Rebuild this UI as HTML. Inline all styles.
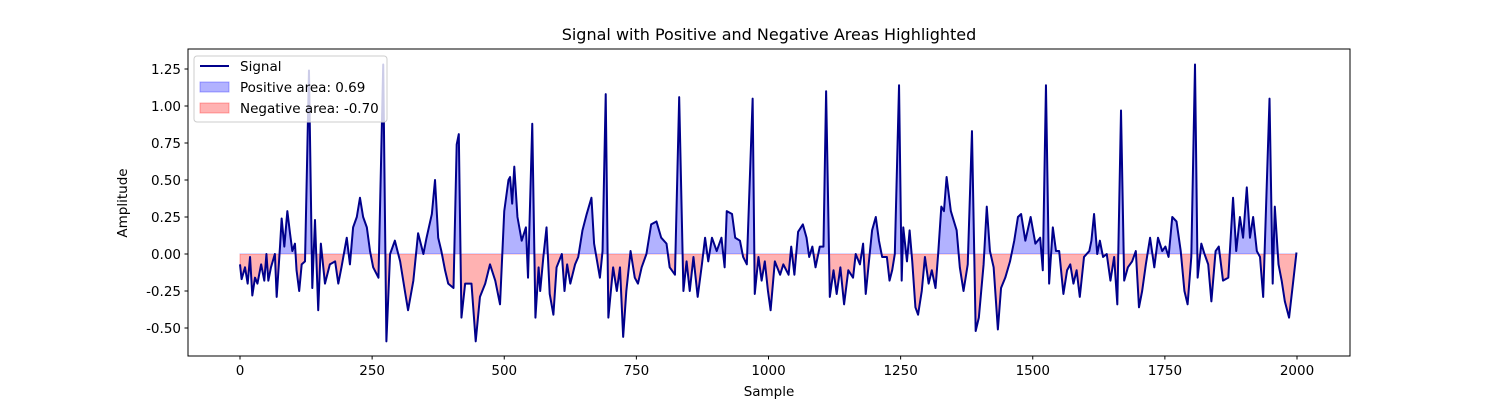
<!DOCTYPE html>
<html><head><meta charset="utf-8"><style>
body{margin:0;background:#fff;font-family:"Liberation Sans","DejaVu Sans",sans-serif}
svg text{font-family:"DejaVu Sans","Liberation Sans",sans-serif;fill:#000}
</style></head><body>
<svg id="chart" width="1500" height="400" xmlns="http://www.w3.org/2000/svg">
<rect width="1500" height="400" fill="#fff"/>
<text x="769" y="40" font-size="16" text-anchor="middle">Signal with Positive and Negative Areas Highlighted</text>
<defs>
<clipPath id="clipPos"><rect x="188" y="49" width="1162" height="205"/></clipPath>
<clipPath id="clipNeg"><rect x="188" y="254" width="1162" height="102"/></clipPath>
</defs>
<g id="fills"></g>
<g id="axes"></g>
<rect x="188" y="49" width="1162" height="307" fill="none" stroke="#000" stroke-width="1"/>
<text x="769" y="396" font-size="13.5" text-anchor="middle">Sample</text>
<text transform="translate(127,203) rotate(-90)" font-size="13.5" text-anchor="middle">Amplitude</text>
<g>
<rect x="194" y="56" width="193" height="66" rx="3" fill="#fff" fill-opacity="0.8" stroke="#ccc"/>
<line x1="200" y1="66" x2="229" y2="66" stroke="#00008b" stroke-width="2"/>
<text x="240" y="71" font-size="13.5">Signal</text>
<rect x="200" y="82" width="29" height="10" fill="#0000ff" fill-opacity="0.3" stroke="#0000ff" stroke-opacity="0.3"/>
<text x="240" y="92" font-size="13.5">Positive area: 0.69</text>
<rect x="200" y="103" width="29" height="10" fill="#ff0000" fill-opacity="0.3" stroke="#ff0000" stroke-opacity="0.3"/>
<text x="240" y="113" font-size="13.5">Negative area: -0.70</text>
</g>
</svg>
<script>
const sampleIdx=[0,3,9.5,14.5,19,23.3,28.4,33,40,46,50,53.6,58.6,66,69.4,75.7,78.8,83.9,89.6,94.6,99,104,107,112,116.7,123,130.5,136.8,141.9,148,153,160.8,170,180,186,192,202,208,214,221,227,233,240,246,252,262,271,277,284,293,303,312,318,328,337,347,353,363,369,375,381,388,394,404,410,414,419,426,438,446,454,464,473,483,492,500,508,
511,515,519,525,533,541,545,553,559,565,568,574,580,586,593,599,609,614,619,625,634,640,648,656,665,670,681,686,692,697,706,713,719,725,731,739,747,753,760,769,778,788,797,807,813,823,831,839,845,851,858,866,874,880,886,893,902,911,917,921,931,937,946,952,959,970,974,981,987,993,999,1004,
1012,1022,1028,1038,1043,1049,1056,1065,1072,1077,1083,1089,1097,1104,1109,1116,1123,1129,1136,1143,1151,1160,1165,1173,1179,1184,1192,1196,1203,1209,1215,1224,1229,1234,1239,1247,1252,1255,1262,1267,1272,1278,1283,1290,1296,1303,1309,1316,1321,1327,1332,1337,1345,1356,1362,1369,1377,1385,1392,1398,1407,1413,1419,1426,1434,1440,1448,1457,1465,1472,1478,1486,1496,1505,1514,1519,1525,1531,
1538,1544,1550,1558,1565,1571,1577,1583,1589,1597,1607,1611,1616,1622,1627,1633,1640,1647,1654,1660,1667,1673,1680,1688,1695,1701,1707,1714,1722,1730,1737,1745,1751,1757,1764,1772,1780,1787,1793,1800,1807,1812,1819,1825,1832,1838,1846,1852,1860,1870,1879,1885,1892,1898,1905,1911,1917,1924,1930,1936,1948,1954,1958,1965,1971,1977,1985,1993,1999];
const amplitude=[-0.07,-0.17,-0.09,-0.20,-0.02,-0.28,-0.16,-0.20,-0.07,-0.18,0,-0.18,-0.09,0,-0.29,0.05,0.24,0.05,0.29,0.14,0.02,0.07,-0.11,-0.25,-0.07,-0.05,1.24,-0.23,0.23,-0.38,0.07,-0.20,-0.07,-0.05,-0.20,-0.09,0.11,-0.07,0.18,0.25,0.38,0.25,0.18,0.02,-0.09,-0.16,1.28,-0.59,0,0.09,-0.05,-0.25,-0.38,-0.18,0.14,0,0.11,0.27,0.50,0.11,0.02,-0.11,-0.20,-0.23,0.74,0.81,-0.43,-0.20,-0.20,-0.59,-0.29,-0.20,-0.07,-0.18,-0.34,0.29,0.50,
0.52,0.34,0.59,0.25,0.09,0.18,-0.16,0.88,-0.43,-0.09,-0.25,-0.02,0.18,-0.27,-0.41,-0.09,0,-0.25,-0.07,-0.20,-0.07,-0.02,0.16,0.27,0.38,0.07,-0.16,0.02,1.08,-0.43,-0.09,-0.25,-0.09,-0.56,-0.25,0.02,-0.16,-0.20,-0.09,0,0.20,0.22,0.11,0.07,-0.09,-0.14,1.06,-0.25,-0.05,-0.25,-0.02,-0.29,-0.07,0.11,-0.05,0.11,0.02,0.11,-0.09,0.29,0.27,0.11,0.09,-0.02,-0.07,1.05,-0.27,-0.02,-0.18,-0.05,-0.25,-0.38,
-0.05,-0.14,-0.07,-0.14,0.05,-0.14,0.15,0.20,0.11,-0.02,0.05,-0.09,0.05,0.05,1.10,-0.29,-0.11,-0.27,-0.09,-0.34,-0.11,-0.16,0,-0.07,0.07,-0.27,0.02,0.16,0.25,0.09,-0.02,-0.02,-0.18,-0.11,0,1.14,-0.18,0.18,-0.05,0.16,-0.05,-0.36,-0.41,-0.25,-0.02,-0.20,-0.11,-0.23,0,0.32,0.29,0.52,0.29,0.16,-0.09,-0.25,-0.07,0.83,-0.52,-0.43,-0.07,0.32,0.02,-0.09,-0.51,-0.23,-0.16,-0.05,0.09,0.25,0.27,0.09,0.25,0.07,0.11,-0.11,1.14,-0.20,
0.18,0.02,0.02,-0.27,-0.11,-0.07,-0.20,-0.11,-0.29,-0.02,0.02,0.09,0.27,0,0.09,-0.02,0,-0.18,-0.02,-0.34,0.97,-0.18,-0.09,-0.05,0.02,-0.36,-0.25,-0.07,0.11,-0.09,0.11,0.02,0.05,-0.02,0.25,0.22,0.02,-0.25,-0.34,-0.02,1.28,-0.16,0.07,0,-0.07,-0.32,0.02,0.05,-0.18,-0.16,0.38,0.02,0.25,0.11,0.45,0.11,0.25,0.02,-0.02,-0.29,1.05,-0.20,0.32,-0.07,-0.18,-0.32,-0.43,-0.18,0.01];
const xTicks=[0,250,500,750,1000,1250,1500,1750,2000];
const yTicks=[-0.5,-0.25,0,0.25,0.5,0.75,1.0,1.25];
const NS='http://www.w3.org/2000/svg';
const xs=v=>240+v*(1297-240)/2000;
const ys=v=>254-v*148;
function mk(t,a){const e=document.createElementNS(NS,t);for(const k in a)e.setAttribute(k,a[k]);return e;}
const svg=document.getElementById('chart');
const axes=document.getElementById('axes');
xTicks.forEach(t=>{
  const l=mk('line',{x1:xs(t),x2:xs(t),y1:356,y2:359.5,stroke:'#000'});
  
  
  axes.appendChild(l);
  const tx=mk('text',{x:xs(t),y:375,'font-size':'13.5','text-anchor':'middle'});
  tx.textContent=t;
  
  
  axes.appendChild(tx);
});
yTicks.forEach(t=>{
  const l=mk('line',{x1:184.5,x2:188,y1:ys(t),y2:ys(t),stroke:'#000'});
  
  
  axes.appendChild(l);
  const tx=mk('text',{x:181,y:ys(t)+5,'font-size':'13.5','text-anchor':'end'});
  tx.textContent=t.toFixed(2);
  
  
  axes.appendChild(tx);
});
let line='';
sampleIdx.forEach((s,i)=>{line+=(i?'L':'M')+xs(s).toFixed(2)+','+ys(amplitude[i]).toFixed(2);});
const area=line+'L'+xs(sampleIdx[sampleIdx.length-1])+','+ys(0)+'L'+xs(sampleIdx[0])+','+ys(0)+'Z';
const fills=document.getElementById('fills');
const pos=mk('path',{d:area,fill:'#0000ff','fill-opacity':0.3,stroke:'#0000ff','stroke-opacity':0.3,'clip-path':'url(#clipPos)'});


fills.appendChild(pos);
const neg=mk('path',{d:area,fill:'#ff0000','fill-opacity':0.3,stroke:'#ff0000','stroke-opacity':0.3,'clip-path':'url(#clipNeg)'});


fills.appendChild(neg);
const sig=mk('path',{d:line,fill:'none',stroke:'#00008b','stroke-width':2,'stroke-linejoin':'round'});


fills.appendChild(sig);
</script>
</body></html>
